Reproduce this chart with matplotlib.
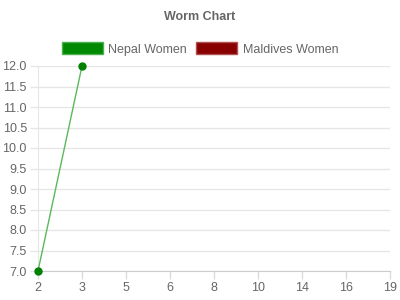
import matplotlib
matplotlib.use("Agg")
import matplotlib.pyplot as plt
from matplotlib.patches import Patch

# data
ages = ["2", "3", "5", "6", "8", "10", "14", "16", "19"]
nepal_women = [7.0, 12.0]
maldives_women = []

plt.rcParams['font.family'] = ['Liberation Sans', 'DejaVu Sans']
text_col = '#666666'
grid_col = '#e6e6e6'

fig = plt.figure(figsize=(4, 3), dpi=100)
ax = fig.add_axes([38 / 400, 29 / 300, 352 / 400, 205 / 300])

ax.plot(range(len(nepal_women)), nepal_women, color='#5cb85c', lw=1,
        marker='o', ms=5, mfc='#008000', mec='#008000', zorder=3, clip_on=False)
ax.plot(range(len(maldives_women)), maldives_women, color='#880000', lw=1)

ax.set_xlim(0, len(ages) - 1)
ax.set_ylim(7.0, 12.0)
ax.set_xticks(range(len(ages)))
ax.set_xticklabels(ages)
ax.set_yticks([7 + 0.5 * i for i in range(11)])
ax.set_yticklabels([f"{7 + 0.5 * i:.1f}" for i in range(11)])

ax.grid(axis='y', color=grid_col, lw=1)
ax.set_axisbelow(True)
for s in ['top', 'right']:
    ax.spines[s].set_visible(False)
ax.spines['left'].set_color(grid_col)
ax.spines['bottom'].set_color('#cccccc')
ax.tick_params(axis='y', color=grid_col, labelcolor=text_col, labelsize=9,
               length=6, width=1, pad=2)
ax.tick_params(axis='x', color='#dddddd', labelcolor=text_col, labelsize=9,
               length=6, width=1, pad=2)

fig.text(0.5, 1 - 17 / 300, "Worm Chart", ha='center', va='center',
         fontsize=9, fontweight='bold', color=text_col)

handles = [Patch(facecolor='#008800', edgecolor='#4caf50', label='Nepal Women'),
           Patch(facecolor='#880000', edgecolor='#b05050', label='Maldives Women')]
fig.legend(handles=handles, loc='center', bbox_to_anchor=(0.5, 1 - 49 / 300), ncol=2,
           frameon=False, fontsize=9, labelcolor=text_col, handlelength=3.3,
           handleheight=1.1, handletextpad=0.45, columnspacing=0.7)

fig.savefig('out.png', dpi=100)
